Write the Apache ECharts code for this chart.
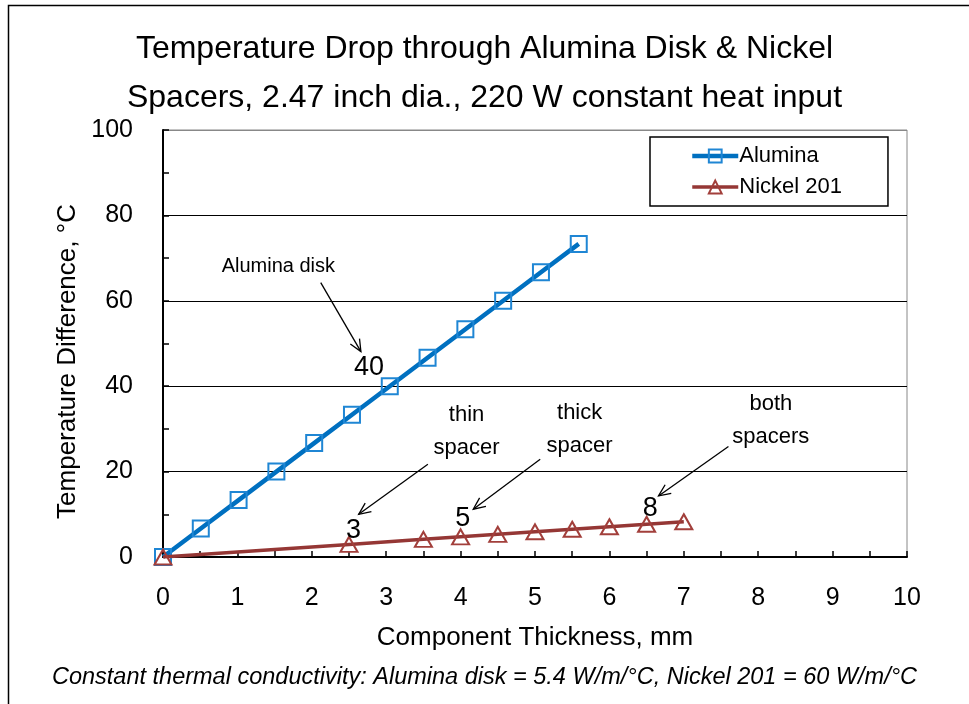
<!DOCTYPE html>
<html>
<head>
<meta charset="utf-8">
<script src="https://cdn.jsdelivr.net/npm/echarts@6/dist/echarts.min.js"></script>
<style>
html,body{margin:0;padding:0;background:#fff;}
#chart{width:969px;height:704px;}
</style>
</head>
<body>
<div id="chart"></div>
<script>
// ---- data ----
var titleLines = ['Temperature Drop through Alumina Disk & Nickel', 'Spacers, 2.47 inch dia., 220 W constant heat input'];
var xAxisName = 'Component Thickness, mm';
var yAxisName = 'Temperature Difference, °C';
var footnote = 'Constant thermal conductivity: Alumina disk = 5.4 W/m/°C, Nickel 201 = 60 W/m/°C';
var seriesNames = ['Alumina', 'Nickel 201'];

var aluminaX = [0, 0.508, 1.016, 1.524, 2.032, 2.54, 3.048, 3.556, 4.064, 4.572, 5.08, 5.588];
var aluminaY = [0, 6.67, 13.33, 20, 26.67, 33.33, 40, 46.67, 53.33, 60, 66.67, 73.33];
var nickelX = [0, 2.5, 3.5, 4, 4.5, 5, 5.5, 6, 6.5, 7];
var nickelY = [0, 2.95, 4.13, 4.72, 5.31, 5.9, 6.49, 7.08, 7.67, 8.26];

// annotations (data coordinates)
var annoTexts = [
  {text: 'Alumina disk', at: [1.55, 68.0], size: 20},
  {text: '40', at: [2.77, 44.4], size: 27},
  {text: 'thin\nspacer', at: [4.08, 29.4], size: 22},
  {text: '3', at: [2.56, 6.3], size: 27},
  {text: 'thick\nspacer', at: [5.6, 29.8], size: 22},
  {text: '5', at: [4.03, 8.9], size: 27},
  {text: 'both\nspacers', at: [8.17, 31.9], size: 22},
  {text: '8', at: [6.55, 11.3], size: 27}
];
var annoArrows = [
  {from: [2.12, 64.25], to: [2.66, 48.1]},
  {from: [3.56, 21.7], to: [2.63, 10.0]},
  {from: [5.07, 22.9], to: [4.17, 11.2]},
  {from: [7.6, 25.9], to: [6.66, 14.3]}
];

function pairs(xs, ys){ return xs.map(function(x,i){ return [x, ys[i]]; }); }

var FONT = '"Liberation Sans", Arial, sans-serif';
var chart = echarts.init(document.getElementById('chart'), null, {renderer: 'canvas'});
var blue = '#0070C0', blueMk = '#1f86d4', red = '#953735', redMk = '#a23f3b';

var option = {
  animation: false,
  backgroundColor: '#fff',
  title: {
    text: titleLines.join('\n'),
    left: 'center',
    top: 25,
    padding: 0,
    textStyle: {fontFamily: FONT, fontSize: 32, fontWeight: 'normal', color: '#000', lineHeight: 49}
  },
  grid: {left: 163, right: 62, top: 130, bottom: 147, show: true, borderColor: '#888', borderWidth: 1, backgroundColor: '#fff'},
  legend: {
    orient: 'vertical',
    left: 650, top: 137,
    padding: [8, 46, 8, 40],
    itemGap: 9,
    itemWidth: 46, itemHeight: 16,
    borderColor: '#000', borderWidth: 1.5,
    backgroundColor: '#fff',
    textStyle: {fontFamily: FONT, fontSize: 22, color: '#000', padding: [0,0,0,-4]},
    data: [
      {name: seriesNames[0], lineStyle: {width: 4.5, color: blue}},
      {name: seriesNames[1], lineStyle: {width: 3.5, color: red}}
    ]
  },
  xAxis: {
    type: 'value', min: 0, max: 10, interval: 1,
    name: xAxisName, nameLocation: 'middle', nameGap: 68,
    nameTextStyle: {fontFamily: FONT, fontSize: 26, color: '#000'},
    axisLine: {lineStyle: {color: '#000', width: 2}},
    axisTick: {show: true, inside: true, length: 6, lineStyle: {color: '#000', width: 1.5}},
    minorTick: {show: true, splitNumber: 2, length: 6, lineStyle: {color: '#000', width: 1.5}},
    axisLabel: {fontFamily: FONT, fontSize: 25, color: '#000', margin: 29},
    splitLine: {show: false}
  },
  yAxis: {
    type: 'value', min: 0, max: 100, interval: 20,
    name: yAxisName, nameLocation: 'middle', nameGap: 80,
    nameTextStyle: {fontFamily: FONT, fontSize: 26, color: '#000', padding: [0, 36, 0, 0]},
    axisLine: {show: true, lineStyle: {color: '#000', width: 2}},
    axisTick: {show: true, inside: true, length: 6, lineStyle: {color: '#000', width: 1.5}},
    minorTick: {show: true, splitNumber: 2, length: 6, lineStyle: {color: '#000', width: 1.5}},
    axisLabel: {fontFamily: FONT, fontSize: 25, color: '#000', margin: 30},
    splitLine: {show: true, lineStyle: {color: ['#000','#000','#000','#000','#000','#888'], width: 1}}
  },
  series: [
    {
      name: seriesNames[0], type: 'line', data: pairs(aluminaX, aluminaY),
      symbol: 'rect', symbolSize: 16,
      lineStyle: {color: blue, width: 4.5},
      itemStyle: {color: 'rgba(255,255,255,0)', borderColor: blueMk, borderWidth: 2},
      z: 3
    },
    {
      name: seriesNames[1], type: 'line', data: pairs(nickelX, nickelY),
      symbol: 'triangle', symbolSize: [17, 15],
      lineStyle: {color: red, width: 3.5},
      itemStyle: {color: 'rgba(255,255,255,0)', borderColor: redMk, borderWidth: 2},
      z: 4
    }
  ]
};
chart.setOption(option);

// annotations positioned through the axes' scales
var g = [];
g.push({type: 'rect', shape: {x: 8.5, y: 5.5, width: 1200, height: 1200}, style: {fill: 'none', stroke: '#000', lineWidth: 1.5}, z: -10, silent: true});
g.push({type: 'text', left: 'center', top: 666, style: {text: footnote, font: 'italic 23.5px ' + FONT, fill: '#000'}});
annoTexts.forEach(function(a){
  var p = chart.convertToPixel({gridIndex: 0}, a.at);
  g.push({type: 'text', x: p[0], y: p[1], z: 10, style: {text: a.text, fontFamily: FONT, fontSize: a.size, fill: '#000', align: 'center', verticalAlign: 'middle', lineHeight: 33}});
});
annoArrows.forEach(function(ar){
  var p0 = chart.convertToPixel({gridIndex: 0}, ar.from);
  var p1 = chart.convertToPixel({gridIndex: 0}, ar.to);
  var ang = Math.atan2(p1[1]-p0[1], p1[0]-p0[0]);
  var L = 13, spread = 0.42;
  var a1 = [p1[0] - L*Math.cos(ang - spread), p1[1] - L*Math.sin(ang - spread)];
  var a2 = [p1[0] - L*Math.cos(ang + spread), p1[1] - L*Math.sin(ang + spread)];
  g.push({type: 'line', z: 10, shape: {x1: p0[0], y1: p0[1], x2: p1[0], y2: p1[1]}, style: {stroke: '#000', lineWidth: 1.3}});
  g.push({type: 'polyline', z: 10, shape: {points: [a1, p1, a2]}, style: {stroke: '#000', lineWidth: 1.3, fill: 'none'}});
});
chart.setOption({graphic: g});
</script>
</body>
</html>
